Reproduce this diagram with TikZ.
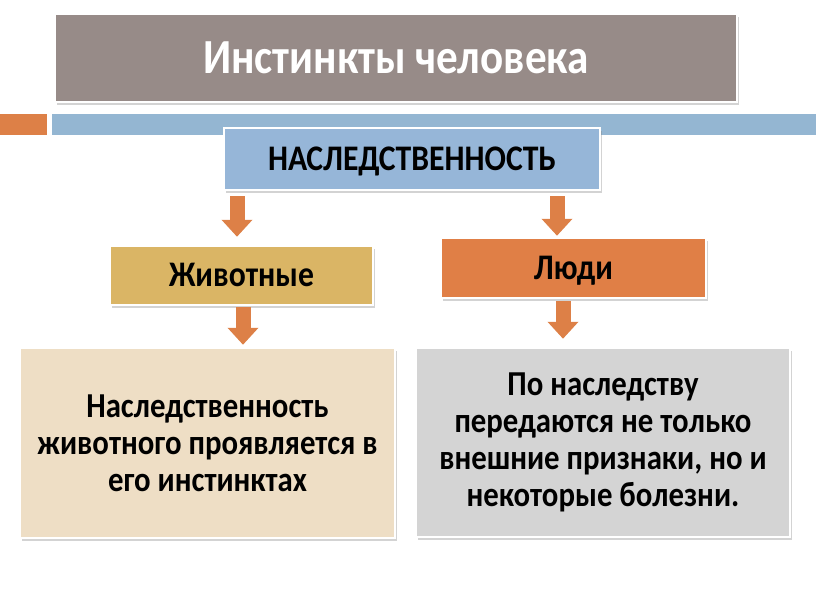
\documentclass[tikz,border=0pt]{standalone}
\usepackage{fontspec}
\setmainfont[FakeStretch=0.88]{Carlito}
\usetikzlibrary{arrows.meta,shadows}
\definecolor{titlegray}{RGB}{151,139,136}
\definecolor{barblue}{RGB}{148,182,210}
\definecolor{barorange}{RGB}{221,128,71}
\definecolor{boxblue}{RGB}{150,182,216}
\definecolor{boxgold}{RGB}{218,181,101}
\definecolor{boxorange}{RGB}{224,127,70}
\definecolor{boxbeige}{RGB}{238,222,197}
\definecolor{boxgray}{RGB}{212,212,212}
\begin{document}
\begin{tikzpicture}[x=1pt, y=-1pt, font=\bfseries,
    box/.style = {rectangle, draw=white, line width=2.5pt, inner sep=0pt,
                  drop shadow={opacity=0.35, shadow xshift=2pt, shadow yshift=-3pt}},
    big/.style = {font=\bfseries\fontsize{36}{40}\selectfont, text height=23pt, text depth=1pt},
    body/.style = {font=\bfseries\fontsize{35}{37}\selectfont, align=center},
    blockarrow/.style = {draw=barorange, line width=15pt,
                  -{Triangle[width=30pt, length=17pt]}}]
      \useasboundingbox (0,0) rectangle (816,613);
      % bars under the title
      \fill[barorange] (0,114) rectangle (47,135);
      \fill[barblue] (52,114) rectangle (816,135);
      \node[box, fill=titlegray, minimum width=682pt, minimum height=88pt, text=white,
            font=\bfseries\fontsize{49}{54}\selectfont] (title) at (396,58) {Инстинкты человека};
      \node[box, big, fill=boxblue, minimum width=376pt, minimum height=62pt] (nasl) at (412,159) {НАСЛЕДСТВЕННОСТЬ};
      \node[box, big, fill=boxgold, minimum width=263pt, minimum height=59pt] (zhiv) at (241.5,275.5) {Животные};
      \node[box, big, fill=boxorange, minimum width=265pt, minimum height=60pt] (lyudi) at (573.5,268) {Люди};
      \node[box, body, fill=boxbeige, minimum width=375pt, minimum height=190pt] (anim) at (207.5,443)
            {Наследственность\\ животного проявляется в\\ его инстинктах};
      \node[box, body, fill=boxgray, minimum width=374pt, minimum height=189pt] (hum) at (603,442.5)
            {По наследству\\ передаются не только\\ внешние признаки, но и\\ некоторые болезни.};
      % arrows
      \draw[blockarrow, shorten <=5pt, shorten >=8pt] ([xshift=-4.5pt]zhiv.north |- nasl.south) -- ([xshift=-4.5pt]zhiv.north);
      \draw[blockarrow, shorten <=5pt, shorten >=1pt] ([xshift=-16.5pt]lyudi.north |- nasl.south) -- ([xshift=-16.5pt]lyudi.north);
      \draw[blockarrow, shorten <=1pt, shorten >=2pt] ([xshift=1.5pt]zhiv.south) -- ([xshift=1.5pt]zhiv.south |- anim.north);
      \draw[blockarrow, shorten <=2pt, shorten >=8pt] ([xshift=-10.5pt]lyudi.south) -- ([xshift=-10.5pt]lyudi.south |- hum.north);
\end{tikzpicture}
\end{document}
